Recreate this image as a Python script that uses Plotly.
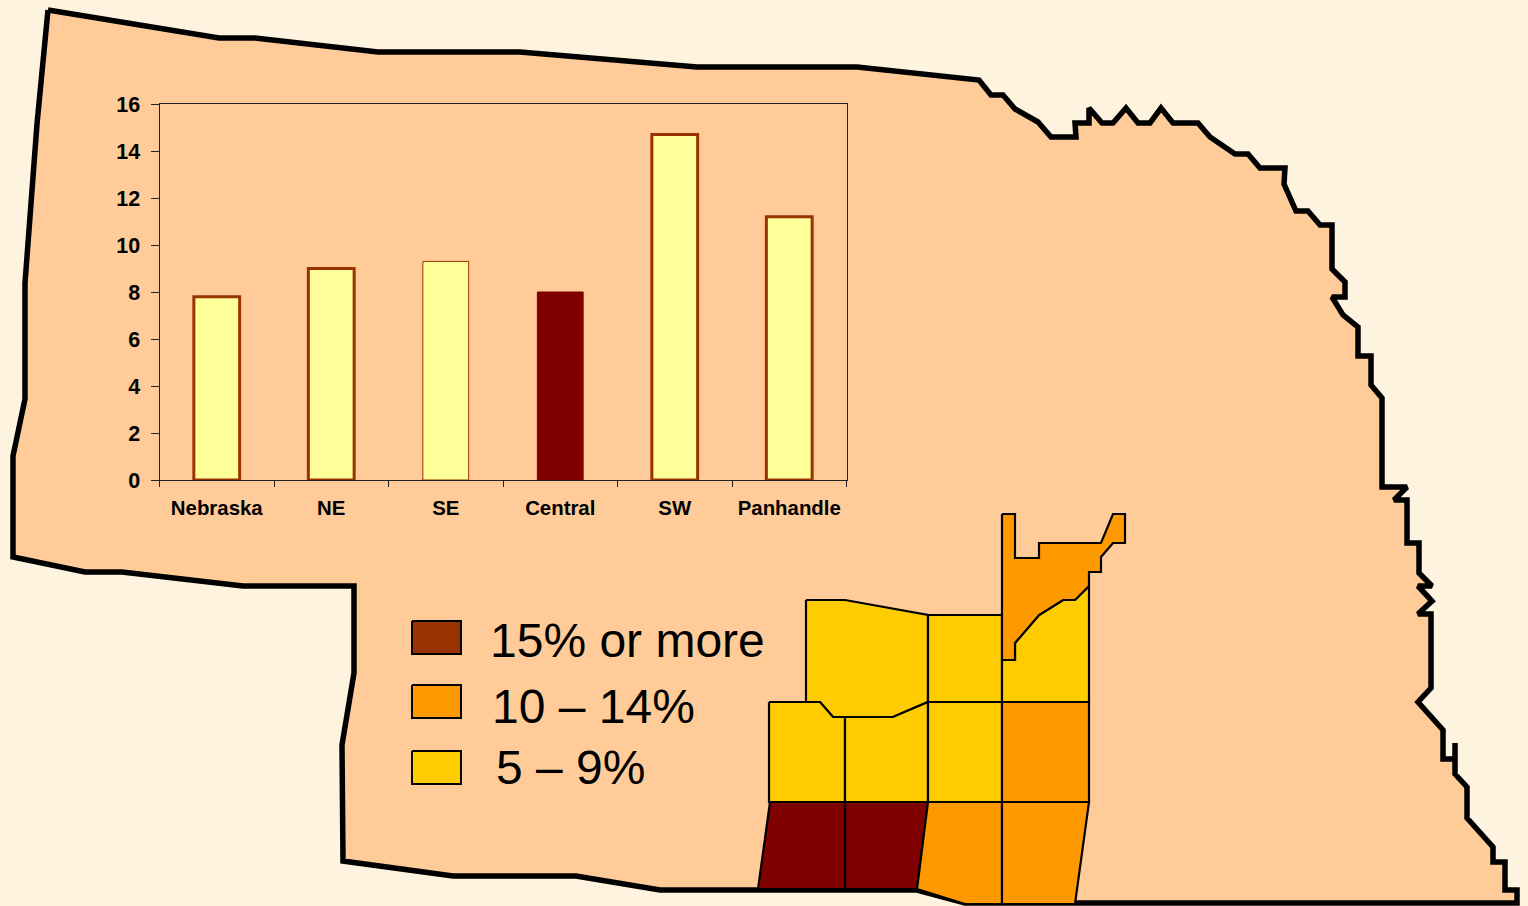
import plotly.graph_objects as go

W, H = 1528, 906

# Bar chart values
regions = ["Nebraska", "NE", "SE", "Central", "SW", "Panhandle"]
percent = [7.8, 9.0, 9.3, 8.0, 14.7, 11.2]
bar_fill = ["#FFFF99", "#FFFF99", "#FFFF99", "#800000", "#FFFF99", "#FFFF99"]
bar_edge = ["#993300", "#993300", "#993300", "#800000", "#993300", "#993300"]
bar_edge_width = [3, 3, 1, 1, 3, 3]
y_ticks = [0, 2, 4, 6, 8, 10, 12, 14, 16]

# State outline, traced clockwise from the north-west corner
state_x = [48, 219, 255, 378, 520, 697, 857, 979, 991, 1003, 1015, 1038, 1051, 1076, 1075, 1089, 1089,
           1102, 1113, 1126, 1138, 1150, 1161, 1173, 1198, 1210, 1235, 1248, 1260, 1285, 1284, 1296,
           1308, 1320, 1332, 1332, 1345, 1345, 1332, 1343, 1358, 1358, 1371, 1371, 1382, 1382, 1407,
           1394, 1407, 1407, 1419, 1419, 1432, 1418, 1432, 1418, 1431, 1431, 1418, 1443, 1443, 1455,
           1455, 1455, 1455, 1467, 1467, 1493, 1493, 1505, 1505, 1517, 1517, 1075, 965, 917, 660, 576,
           453, 343, 342, 354, 354, 243, 122, 85, 13, 13, 25, 25, 37, 48]
state_y = [10, 38, 38, 52, 52, 67, 67, 80, 95, 95, 109, 122, 137, 137, 123, 123, 108,
           123, 123, 108, 123, 123, 108, 123, 123, 137, 154, 154, 168, 168, 184, 211,
           211, 225, 225, 269, 282, 297, 297, 315, 327, 356, 356, 385, 398, 487, 487,
           500, 500, 543, 543, 573, 586, 586, 601, 614, 614, 688, 702, 730, 759, 759,
           743, 759, 774, 787, 818, 847, 862, 862, 890, 890, 903, 903, 903, 890, 890, 876,
           876, 861, 745, 673, 586, 586, 572, 572, 557, 456, 399, 283, 124, 10]

# County blocks: (x vertices, y vertices, fill)
DARK, ORANGE, YELLOW = "#800000", "#FF9900", "#FFCC00"
counties = [
    ([806, 845, 928, 928, 893, 833, 820, 806], [600, 600, 615, 702, 717, 717, 702, 702], YELLOW),
    ([928, 1002, 1002, 928], [615, 615, 702, 702], YELLOW),
    ([1002, 1015, 1015, 1039, 1063, 1075, 1089, 1089, 1002], [660, 660, 643, 615, 600, 600, 586, 702, 702], YELLOW),
    ([1002, 1015, 1015, 1039, 1039, 1101, 1113, 1125, 1125, 1113, 1101, 1101, 1089, 1089, 1075, 1063, 1039, 1015, 1015, 1002],
     [514, 514, 558, 558, 543, 543, 514, 514, 543, 543, 557, 572, 572, 586, 600, 600, 615, 643, 660, 660], ORANGE),
    ([769, 820, 833, 845, 845, 769], [702, 702, 717, 717, 802, 802], YELLOW),
    ([845, 893, 928, 928, 845], [717, 717, 702, 802, 802], YELLOW),
    ([928, 1002, 1002, 928], [702, 702, 802, 802], YELLOW),
    ([1002, 1089, 1089, 1002], [702, 702, 802, 802], ORANGE),
    ([770, 845, 845, 758], [802, 802, 889, 889], DARK),
    ([845, 928, 917, 845], [802, 802, 889, 889], DARK),
    ([928, 1002, 1002, 965, 917], [802, 802, 904, 904, 889], ORANGE),
    ([1002, 1089, 1075, 1002], [802, 802, 904, 904], ORANGE),
]

# Legend rows
legend_labels = ["15% or more", "10 – 14%", "5 – 9%"]
legend_fill = ["#993300", "#FF9900", "#FFCC00"]
legend_box_top = [621, 685, 751]
legend_text_x = [488, 490, 494]
legend_text_y = [640, 706, 767]
BOX_LEFT, BOX_RIGHT, BOX_HEIGHT = 412, 461, 33

fig = go.Figure()


def polygon(xs, ys, fill, edge, width):
    fig.add_trace(go.Scatter(
        x=xs, y=ys, mode="lines", fill="toself", fillcolor=fill,
        line=dict(color=edge, width=width), hoverinfo="skip", showlegend=False,
        xaxis="x", yaxis="y",
    ))


polygon(state_x, state_y, "#FFCC99", "#000000", 5.5)
for xs, ys, fill in counties:
    polygon(xs + xs[:1], ys + ys[:1], fill, "#000000", 2.2)
for top, fill in zip(legend_box_top, legend_fill):
    polygon([BOX_LEFT, BOX_RIGHT, BOX_RIGHT, BOX_LEFT, BOX_LEFT],
            [top, top, top + BOX_HEIGHT, top + BOX_HEIGHT, top], fill, "#000000", 2)

fig.add_trace(go.Bar(
    x=regions, y=percent, width=0.4,
    marker=dict(color=bar_fill, line=dict(color=bar_edge, width=bar_edge_width)),
    showlegend=False, xaxis="x2", yaxis="y2",
))

annotations = [
    dict(x=x, y=y, xref="x", yref="y", text=t, showarrow=False, xanchor="left", yanchor="middle",
         font=dict(family="Liberation Sans", size=48, color="#000000"))
    for t, x, y in zip(legend_labels, legend_text_x, legend_text_y)
]

fig.update_layout(
    template="none",
    width=W, height=H, autosize=False,
    margin=dict(l=0, r=0, t=0, b=0),
    paper_bgcolor="#FEF3DE", plot_bgcolor="rgba(0,0,0,0)",
    annotations=annotations, bargap=0.6,
    xaxis=dict(domain=[0, 1], range=[0, W], visible=False, fixedrange=True, automargin=False),
    yaxis=dict(domain=[0, 1], range=[H, 0], visible=False, fixedrange=True, automargin=False),
    xaxis2=dict(
        domain=[159.5 / W, 846.5 / W], anchor="y2", type="category", tickson="boundaries",
        ticks="outside", ticklen=6, tickcolor="#222222", tickwidth=1,
        showline=True, linecolor="#222222", linewidth=1, mirror=True, showgrid=False,
        tickfont=dict(family="Liberation Sans", size=20.4, color="#000000", weight="bold"),
        ticklabelstandoff=10, fixedrange=True, automargin=False,
    ),
    yaxis2=dict(
        domain=[(H - 480) / H, (H - 104) / H], anchor="x2", range=[0, 16], tickvals=y_ticks,
        ticks="outside", ticklen=8, tickcolor="#222222", tickwidth=1,
        showline=True, linecolor="#222222", linewidth=1, mirror=True, showgrid=False, zeroline=False,
        tickfont=dict(family="Liberation Sans", size=21.5, color="#000000", weight="bold"),
        ticklabelstandoff=6, fixedrange=True, automargin=False,
    ),
)

fig.write_html("out.html", config=dict(displayModeBar=False))
